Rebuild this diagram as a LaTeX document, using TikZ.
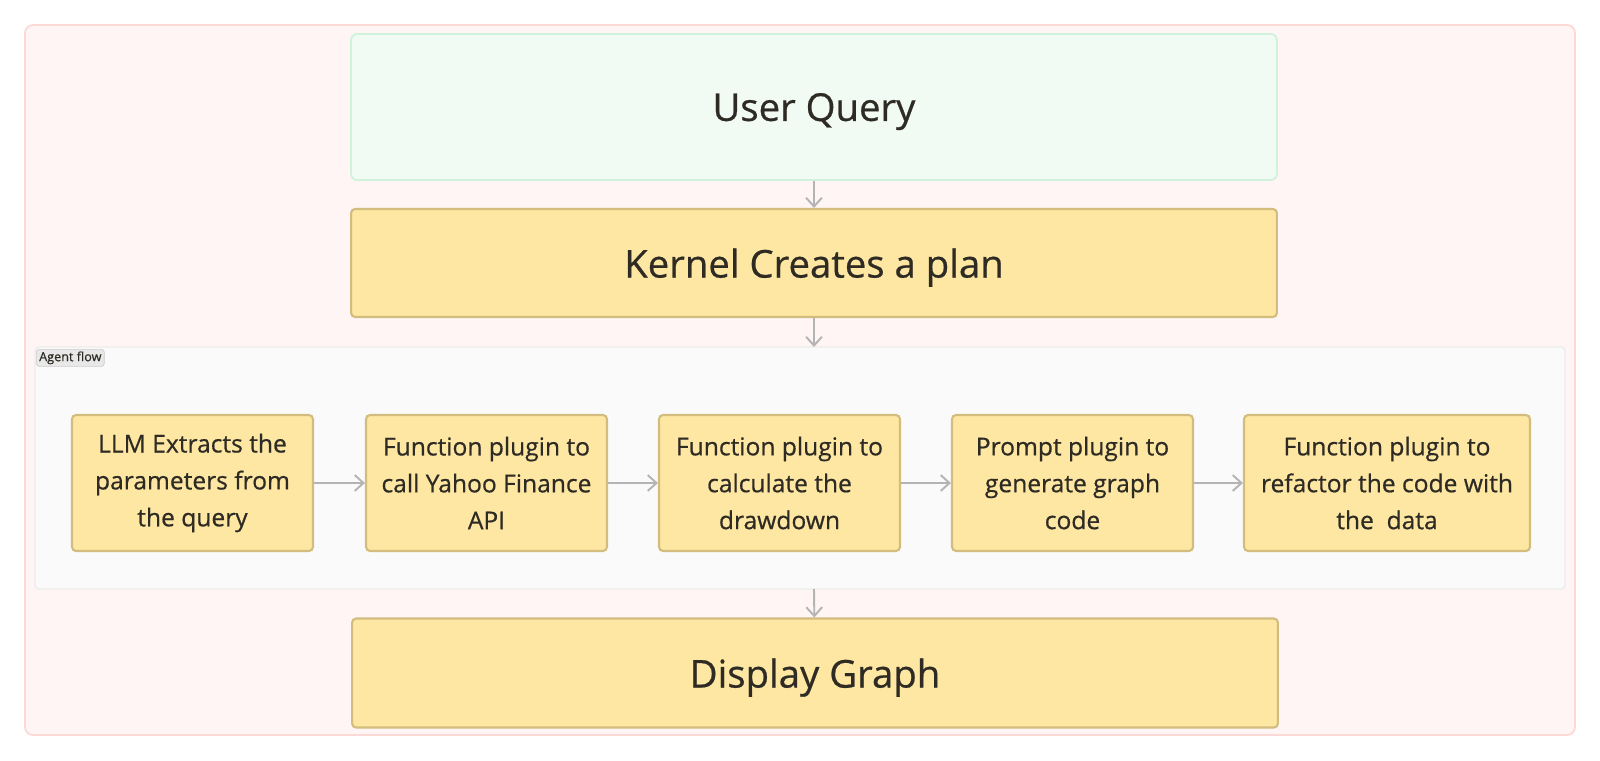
\documentclass[tikz,border=0pt]{standalone}
\usepackage{fontspec}
\setmainfont{Open Sans}[FakeBold=0.6]
\usepackage{xcolor}
\usepackage{tikz}
\usetikzlibrary{arrows.meta}
\definecolor{frameRed}{HTML}{FDD9D6}
\definecolor{frameFill}{HTML}{FEF5F4}
\definecolor{queryLine}{HTML}{CFF2DA}
\definecolor{queryFill}{HTML}{F1FBF3}
\definecolor{stepFill}{HTML}{FEE7A2}
\definecolor{stepLine}{HTML}{D2BD7E}
\definecolor{flowFill}{HTML}{FAFAFA}
\definecolor{flowLine}{HTML}{EDEDED}
\definecolor{arrowGray}{HTML}{B4B4B4}
\definecolor{inkText}{HTML}{2E2A24}

\begin{document}
\begin{tikzpicture}[x=0.02cm, y=-0.02cm,
    every node/.style={text=inkText, inner sep=0pt},
    bigbox/.style={draw=stepLine, fill=stepFill, line width=1.2pt, rounded corners=0.8mm,
      minimum width=18.52cm, text depth=0pt, font=\fontsize{21.8}{26}\selectfont},
    stepbox/.style={draw=stepLine, fill=stepFill, line width=1.2pt, rounded corners=0.8mm,
      minimum width=4.82cm, minimum height=2.72cm, align=center,
      font=\fontsize{14}{21}\selectfont},
    flowarrow/.style={-{Straight Barb[length=5pt, width=9pt, line width=1.1pt]},
      draw=arrowGray, line width=1.1pt}]
        \useasboundingbox (0,0) rectangle (1600,761);
        % outer frame and agent flow group
        \draw[frameRed, fill=frameFill, rounded corners=1.6mm, line width=1pt]
          (25,25) rectangle (1575,735);
        \draw[flowLine, fill=flowFill, rounded corners=0.8mm, line width=0.8pt]
          (35,347) rectangle (1565,589);
        \node[draw=black!20, fill=black!9, rounded corners=0.6mm, anchor=north west,
          minimum width=1.36cm, minimum height=0.34cm, font=\fontsize{7.2}{8}\selectfont]
          (tag) at (36,349) {Agent flow};
        % main column
        \node[draw=queryLine, fill=queryFill, line width=1pt, rounded corners=1.2mm,
          minimum width=18.52cm, minimum height=2.92cm, text depth=0pt,
          font=\fontsize{21.8}{26}\selectfont]
          (query) at (814,107) {User Query};
        \node[bigbox, minimum height=2.16cm] (kernel) at (814,263) {Kernel Creates a plan};
        \node[bigbox, minimum height=2.18cm] (display) at (815,673) {Display Graph};
        \coordinate (flowtop) at (814,347);
        \coordinate (flowbot) at (814,589);
        % agent steps, left to right
        \node[stepbox] (extract) at (192.5,483) {LLM Extracts the\\parameters from\\the query};
        \node[stepbox] (yahoo) at (486.5,483) {Function plugin to\\call Yahoo Finance\\API};
        \node[stepbox] (drawdown) at (779.5,483) {Function plugin to\\calculate the\\drawdown};
        \node[stepbox] (prompt) at (1072.5,483) {Prompt plugin to\\generate graph\\code};
        \node[stepbox, minimum width=5.72cm] (refactor) at (1387,483)
          {Function plugin to\\refactor the code with\\the\ \ data};
        % connectors
        \draw[flowarrow] (query) -- (kernel);
        \draw[flowarrow] (kernel) -- (flowtop);
        \draw[flowarrow] (flowbot) -- (display);
        \draw[flowarrow] (extract) -- (yahoo);
        \draw[flowarrow] (yahoo) -- (drawdown);
        \draw[flowarrow] (drawdown) -- (prompt);
        \draw[flowarrow] (prompt) -- (refactor);
      \end{tikzpicture}
\end{document}
